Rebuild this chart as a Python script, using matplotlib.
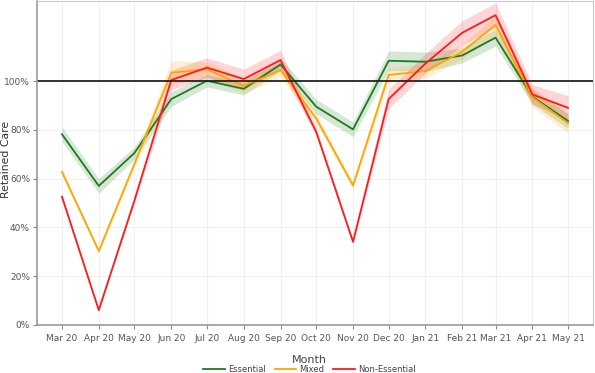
import matplotlib
matplotlib.use('Agg')
import matplotlib.pyplot as plt
import numpy as np
import pandas as pd

months = pd.date_range('2020-03-01', '2021-05-01', freq='MS')
month_labels = ['Mar 20', 'Apr 20', 'May 20', 'Jun 20', 'Jul 20', 'Aug 20', 'Sep 20', 'Oct 20',
                'Nov 20', 'Dec 20', 'Jan 21', 'Feb 21', 'Mar 21', 'Apr 21', 'May 21']

essential = [78.2, 57.0, 70.5, 92.6, 100.1, 96.8, 106.8, 89.5, 80.2, 108.3, 107.9, 110.5, 117.8, 93.6, 83.6]
mixed = [62.8, 30.3, 66.0, 103.4, 104.8, 98.0, 104.4, 84.7, 57.2, 102.5, 104.1, 112.0, 123.0, 93.3, 82.7]
non_essential = [52.6, 6.1, 51.0, 100.4, 105.5, 100.8, 108.6, 79.2, 34.1, 92.6, 107.2, 119.8, 127.0, 94.5, 89.0]

# half widths of the shaded bands
essential_err = [3, 3, 2.5, 3, 2.5, 2.5, 2.5, 3, 3, 4, 4, 3, 3.5, 3, 3]
mixed_err = [1.5, 1, 1.5, 5, 3, 3, 3, 2, 1.5, 3, 3, 3, 4, 4, 4]
non_essential_err = [1, 0.5, 1, 4, 4, 4, 4, 1.5, 1, 4, 4, 5, 5, 4, 5]

series = [('Essential', essential, essential_err, '#1e7b1e'),
          ('Mixed', mixed, mixed_err, '#ffa500'),
          ('Non-Essential', non_essential, non_essential_err, '#ff1a1a')]

fig = plt.figure(figsize=(5.95, 3.73), dpi=100)
ax = fig.add_axes([37/595, 48/373, 556/595, 324/373])

for name, vals, err, col in series:
    v = np.array(vals) / 100
    e = np.array(err) / 100
    ax.fill_between(months, v - e, v + e, color=col, alpha=0.18, linewidth=0)
for name, vals, err, col in series:
    v = np.array(vals) / 100
    ax.plot(months, v, color=col, linewidth=1.3, label=name)

ax.axhline(1.0, color='#222222', linewidth=1.3)

ax.set_xlim(pd.Timestamp('2020-02-09'), pd.Timestamp('2021-05-22'))
ax.set_ylim(0, 1.328)
ax.set_xticks(months)
ax.set_xticklabels(month_labels)
ax.set_yticks([0, 0.2, 0.4, 0.6, 0.8, 1.0])
ax.set_yticklabels(['0%', '20%', '40%', '60%', '80%', '100%'])
ax.tick_params(axis='both', labelsize=6.5, colors='#888888', labelcolor='#555555', length=3, width=0.8)
ax.tick_params(axis='y', pad=2)
ax.grid(True, color='#f0f0f0', linewidth=0.8)
ax.set_axisbelow(True)
for s in ['top', 'right']:
    ax.spines[s].set_color('#c8c8c8')
for s in ['left', 'bottom']:
    ax.spines[s].set_color('#999999')
    ax.spines[s].set_linewidth(1.2)

ax.set_ylabel('Retained Care', fontsize=7.8, color='#333333')
ax.yaxis.set_label_coords(-0.047, 0.51)

leg = ax.legend(loc='lower center', bbox_to_anchor=(0.49, -0.16), ncol=3, frameon=False,
                fontsize=6, title='Month', title_fontsize=8, handlelength=2.6,
                columnspacing=1.0, handletextpad=0.4, borderaxespad=0, labelspacing=0)
leg.get_title().set_color('#444444')
for t in leg.get_texts():
    t.set_color('#444444')
leg._legend_box.sep = 0

fig.savefig('out.png', dpi=100)
